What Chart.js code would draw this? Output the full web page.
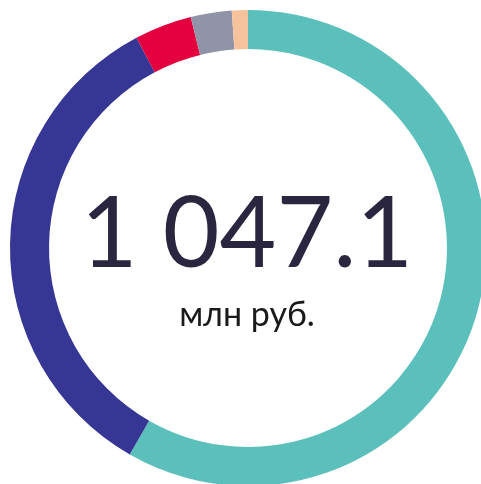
<!DOCTYPE html>
<html>
<head>
<meta charset="utf-8">
<script src="https://cdn.jsdelivr.net/npm/chart.js@4"></script>
<style>
    html, body { margin: 0; padding: 0; background: #fff; overflow: hidden; }
    body { width: 481px; height: 484px; position: relative; }
    #wrap { position: absolute; left: 0; top: 0; width: 496px; height: 496px; }
    .label { position: absolute; left: 0; width: 494px; text-align: center; font-family: Lato, sans-serif; color: #2a2640; white-space: nowrap; }
    #total { top: 180px; font-size: 98px; line-height: 98px; }
    #unit { top: 296px; font-size: 34px; line-height: 34px; color: #1a1a1a; }
</style>
</head>
<body>
<div id="wrap"><canvas id="chart1"></canvas></div>
<div class="label" id="total">1 047.1</div>
<div class="label" id="unit">млн руб.</div>
<script>
// values in mln rub, clockwise from the top
const segmentLabels = ['A', 'B', 'C', 'D', 'E'];
const segmentValues = [610.2, 355.6, 40.8, 29.1, 11.4];
const segmentColors = ['#5bbfbb', '#363795', '#e4003f', '#9193a8', '#f5c29c'];

const ctx1 = document.getElementById('chart1').getContext('2d');
new Chart(ctx1, {
    type: 'doughnut',
    data: {
        labels: segmentLabels,
        datasets: [{
            data: segmentValues,
            backgroundColor: segmentColors,
            borderWidth: 0
        }]
    },
    options: {
        responsive: true,
        maintainAspectRatio: true,
        aspectRatio: 1,
        animation: false,
        cutout: '83.6%',
        layout: { padding: 10 },
        plugins: { legend: { display: false }, tooltip: { enabled: false } }
    }
});
</script>
</body>
</html>
